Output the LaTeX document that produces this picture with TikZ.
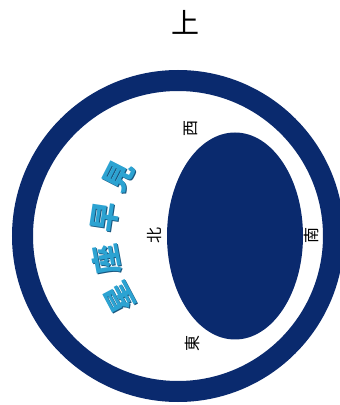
\documentclass[tikz,border=0pt]{standalone}
\usepackage{fontspec}
\usetikzlibrary{calc}
\newfontfamily\jpfont{Noto Sans CJK JP}
\definecolor{navy}{HTML}{0A2A6E}
\definecolor{titlecyan}{HTML}{2CA3D2}
\definecolor{titleedge}{HTML}{17557E}
\begin{document}
\begin{tikzpicture}[x=1pt,y=1pt,
  dirlabel/.style={font=\jpfont\fontsize{16}{16}\selectfont, inner sep=0pt, rotate=90},
  titlechar/.style={font=\jpfont\bfseries\fontsize{30}{30}\selectfont, inner sep=0pt, text=titlecyan},
  titleshadow/.style={font=\jpfont\bfseries\fontsize{30}{30}\selectfont, inner sep=0pt, text=titleedge}]
\useasboundingbox (0,0) rectangle (340,405);
\clip (0,0) rectangle (340,405);
\fill[white] (0,0) rectangle (340,405);
% outer ring
\coordinate (c) at (178,169);
\draw[navy, line width=21pt] (c) circle[radius=155.5];
% inner disc (ellipse)
\fill[navy] (235,169) ellipse[x radius=68, y radius=103.5];
% top label
\node[font=\jpfont\fontsize{28}{28}\selectfont, inner sep=0pt] (up) at (185,383) {上};
% direction labels
\node[dirlabel] (west) at (191,276) {西};
\node[dirlabel] (south) at (311,169) {南};
\node[dirlabel] (north) at (154,169) {北};
\node[dirlabel] (east) at (192,61) {東};
% title along arc
\foreach \ch/\ang [count=\i] in {見/153,早/171.5,座/190.5,星/208} {
  \pgfmathsetmacro{\rot}{\ang-90}
  \node[titleshadow, rotate=\rot] at ($(235,169)+(\ang:131)+(1,-1)$) {\ch};
  \node[titlechar, rotate=\rot] (t\i) at ($(235,169)+(\ang:131)$) {\ch};
}
\end{tikzpicture}
\end{document}
